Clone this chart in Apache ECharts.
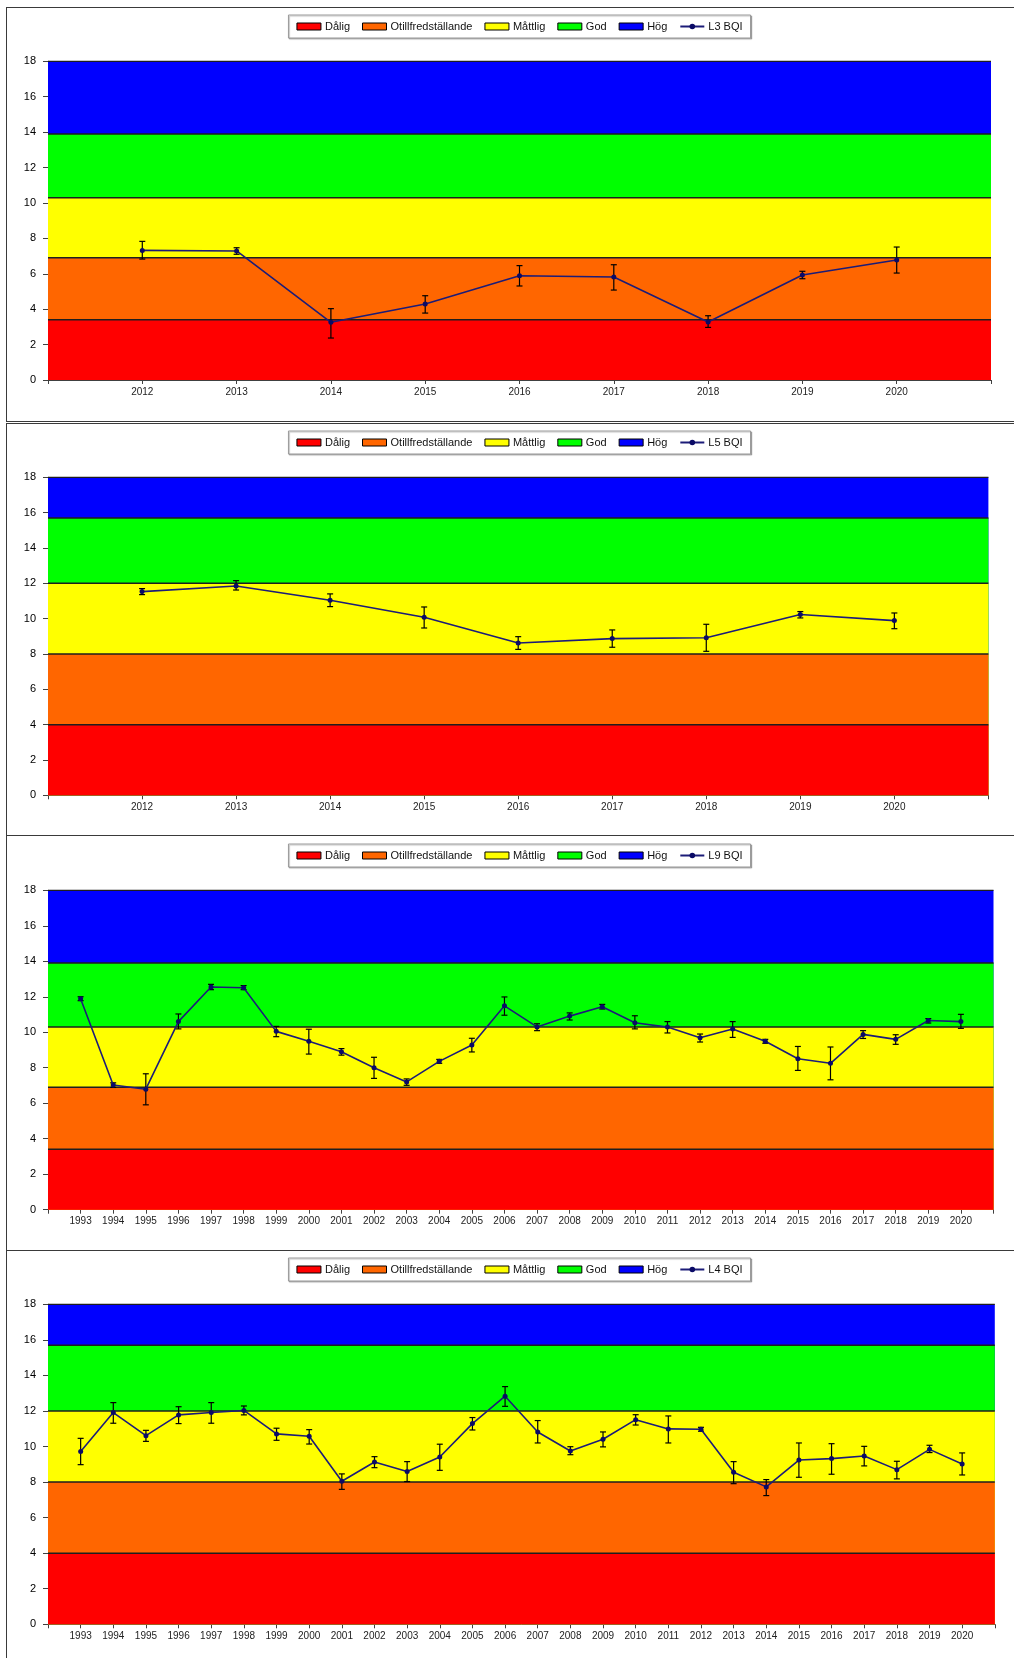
<!DOCTYPE html>
<html>
<head>
<meta charset="utf-8">
<script src="https://cdn.jsdelivr.net/npm/echarts@6/dist/echarts.min.js"></script>
<style>
  html, body { margin: 0; padding: 0; background: #fff; }
  #page { position: relative; width: 1014px; height: 1658px; overflow: hidden; }
  .frame { position: absolute; left: 6px; width: 1030px; border: 1px solid #3a3a3a; box-sizing: border-box; }
  .chart { position: absolute; left: 0; width: 1039px; }
</style>
</head>
<body>
<div id="page">
  <div class="frame" style="top:7px;height:415px"></div>
  <div class="frame" style="top:423px;height:413px"></div>
  <div class="frame" style="top:835px;height:416px"></div>
  <div class="frame" style="top:1250px;height:420px"></div>
  <div class="chart" id="c1" style="top:7px;height:414px"></div>
  <div class="chart" id="c2" style="top:423px;height:412px"></div>
  <div class="chart" id="c3" style="top:836px;height:414px"></div>
  <div class="chart" id="c4" style="top:1250px;height:408px"></div>
</div>
<script>
// Status classes (bottom to top) and their colours
const bandNames = ['Dålig', 'Otillfredställande', 'Måttlig', 'God', 'Hög'];
const bandColors = ['#FF0000', '#FF6600', '#FFFF00', '#00FF00', '#0000FF'];
// Upper limit of each class
const bandTopsL3L9 = [3.4, 6.9, 10.3, 13.9, 18];
const bandTopsL5L4 = [4, 8, 12, 15.7, 18];

// Y axis
const yMin = 0, yMax = 18, yStep = 2;

// Station L3
const yearsL3 = [2012, 2013, 2014, 2015, 2016, 2017, 2018, 2019, 2020];
const bqiL3 = [7.32, 7.29, 3.26, 4.29, 5.89, 5.82, 3.28, 5.93, 6.78];
const lowL3 = [6.83, 7.10, 2.37, 3.78, 5.31, 5.08, 2.97, 5.72, 6.04];
const highL3 = [7.83, 7.47, 4.03, 4.76, 6.46, 6.51, 3.63, 6.14, 7.51];

// Station L5
const yearsL5 = [2012, 2013, 2014, 2015, 2016, 2017, 2018, 2019, 2020];
const bqiL5 = [11.53, 11.85, 11.04, 10.08, 8.62, 8.87, 8.92, 10.23, 9.89];
const lowL5 = [11.36, 11.62, 10.68, 9.47, 8.26, 8.38, 8.15, 10.04, 9.43];
const highL5 = [11.70, 12.15, 11.40, 10.66, 8.98, 9.36, 9.68, 10.40, 10.32];

// Station L9
const yearsL9 = [1993, 1994, 1995, 1996, 1997, 1998, 1999, 2000, 2001, 2002, 2003, 2004, 2005, 2006,
                 2007, 2008, 2009, 2010, 2011, 2012, 2013, 2014, 2015, 2016, 2017, 2018, 2019, 2020];
const bqiL9 = [11.89, 7.03, 6.79, 10.60, 12.55, 12.51, 10.05, 9.49, 8.90, 8.00, 7.20, 8.36, 9.28, 11.49,
               10.30, 10.91, 11.44, 10.54, 10.29, 9.69, 10.18, 9.49, 8.51, 8.25, 9.88, 9.60, 10.66, 10.60];
const lowL9 = [11.78, 6.89, 5.91, 10.19, 12.40, 12.40, 9.75, 8.77, 8.71, 7.40, 7.01, 8.25, 8.89, 10.96,
               10.09, 10.69, 11.31, 10.19, 9.96, 9.45, 9.71, 9.38, 7.85, 7.32, 9.65, 9.32, 10.52, 10.22];
const highL9 = [12.00, 7.15, 7.66, 11.03, 12.70, 12.63, 10.33, 10.17, 9.08, 8.59, 7.37, 8.47, 9.66, 11.99,
                10.48, 11.09, 11.57, 10.93, 10.60, 9.90, 10.60, 9.60, 9.20, 9.17, 10.09, 9.86, 10.77, 11.01];

// Station L4
const yearsL4 = [1993, 1994, 1995, 1996, 1997, 1998, 1999, 2000, 2001, 2002, 2003, 2004, 2005, 2006,
                 2007, 2008, 2009, 2010, 2011, 2012, 2013, 2014, 2015, 2016, 2017, 2018, 2019, 2020];
const bqiL4 = [9.72, 11.91, 10.61, 11.78, 11.91, 12.03, 10.71, 10.58, 8.05, 9.13, 8.59, 9.41, 11.29, 12.83,
               10.82, 9.75, 10.41, 11.51, 10.99, 10.97, 8.55, 7.73, 9.24, 9.32, 9.47, 8.70, 9.84, 9.02];
const lowL4 = [8.98, 11.31, 10.29, 11.29, 11.31, 11.78, 10.35, 10.14, 7.59, 8.81, 8.03, 8.66, 10.93, 12.26,
               10.20, 9.54, 9.98, 11.21, 10.20, 10.86, 7.91, 7.24, 8.27, 8.44, 8.91, 8.18, 9.66, 8.40];
const highL4 = [10.46, 12.47, 10.91, 12.24, 12.47, 12.28, 11.03, 10.95, 8.46, 9.43, 9.15, 10.13, 11.63, 13.37,
                11.46, 9.99, 10.82, 11.79, 11.72, 11.08, 9.15, 8.14, 10.20, 10.16, 10.01, 9.17, 10.07, 9.64];

const FONT = '"Liberation Sans", Arial, sans-serif';

function buildOption(p) {
  const xMin = p.years[0] - 1;
  const xMax = p.years[p.years.length - 1] + 1;

  // Class bands: each area reaches down to zero; lower classes are drawn on top
  const bands = bandNames.map((name, i) => ({
    name: name,
    type: 'line',
    z: 6 - i,
    silent: true,
    symbol: 'none',
    data: [[xMin, p.tops[i]], [xMax, p.tops[i]]],
    lineStyle: { color: '#1e1e1e', width: 1.5 },
    itemStyle: { color: bandColors[i] },
    areaStyle: { color: bandColors[i], opacity: 1 },
    emphasis: { disabled: true }
  }));

  const errorBars = {
    name: 'err',
    type: 'custom',
    z: 9,
    silent: true,
    data: p.years.map((y, i) => [y, p.low[i], p.high[i]]),
    encode: { x: 0, y: [1, 2] },
    renderItem: function (params, api) {
      const x = api.value(0);
      const a = api.coord([x, api.value(1)]);
      const b = api.coord([x, api.value(2)]);
      const hw = 3;
      const st = { stroke: '#000', lineWidth: 1.2 };
      return {
        type: 'group',
        children: [
          { type: 'line', shape: { x1: a[0], y1: a[1], x2: b[0], y2: b[1] }, style: st },
          { type: 'line', shape: { x1: a[0] - hw, y1: a[1], x2: a[0] + hw, y2: a[1] }, style: st },
          { type: 'line', shape: { x1: b[0] - hw, y1: b[1], x2: b[0] + hw, y2: b[1] }, style: st }
        ]
      };
    }
  };

  const bqi = {
    name: p.label,
    type: 'line',
    z: 10,
    data: p.years.map((y, i) => [y, p.values[i]]),
    symbol: 'circle',
    symbolSize: 5,
    lineStyle: { color: '#1c1c78', width: 1.6 },
    itemStyle: { color: '#0a0a66' },
    emphasis: { disabled: true }
  };

  return {
    animation: false,
    textStyle: { fontFamily: FONT },
    legend: {
      top: p.legendTop,
      left: 'center',
      padding: [6, 8],
      itemGap: 12,
      itemWidth: 24,
      itemHeight: 7,
      borderColor: '#9a9a9a',
      borderWidth: 1,
      backgroundColor: '#fff',
      shadowColor: 'rgba(0,0,0,0.25)',
      shadowOffsetX: 1,
      shadowOffsetY: 1,
      shadowBlur: 1,
      selectedMode: false,
      textStyle: { fontSize: 11, color: '#111', fontFamily: FONT, padding: [0, 0, 0, -1] },
      data: bandNames.map((n, i) => ({
        name: n,
        icon: 'rect',
        itemStyle: { color: bandColors[i], borderColor: '#000', borderWidth: 1 }
      })).concat([{ name: p.label }])
    },
    grid: { left: 48, right: p.gridRight, top: p.gridTop, height: p.gridHeight },
    xAxis: {
      type: 'value',
      min: xMin,
      max: xMax,
      interval: 1,
      axisLine: { show: true, lineStyle: { color: '#404040', width: 1 } },
      axisTick: { show: true, length: 4, lineStyle: { color: '#404040' } },
      axisLabel: {
        fontSize: 10,
        color: '#222',
        margin: 7,
        fontFamily: FONT,
        formatter: v => (v === xMin || v === xMax) ? '' : String(v)
      },
      splitLine: { show: false }
    },
    yAxis: {
      type: 'value',
      min: yMin,
      max: yMax,
      interval: yStep,
      axisLine: { show: true, lineStyle: { color: '#404040', width: 1 } },
      axisTick: { show: true, length: 5, lineStyle: { color: '#404040' } },
      axisLabel: { fontSize: 11, color: '#000', margin: 12, fontFamily: FONT },
      splitLine: { show: false }
    },
    series: bands.concat([errorBars, bqi])
  };
}

const panels = [
  { el: 'c1', label: 'L3 BQI', years: yearsL3, values: bqiL3, low: lowL3, high: highL3,
    tops: bandTopsL3L9, legendTop: 8, gridTop: 54.3, gridHeight: 318.7, gridRight: 48 },
  { el: 'c2', label: 'L5 BQI', years: yearsL5, values: bqiL5, low: lowL5, high: highL5,
    tops: bandTopsL5L4, legendTop: 8, gridTop: 54.3, gridHeight: 318, gridRight: 50.6 },
  { el: 'c3', label: 'L9 BQI', years: yearsL9, values: bqiL9, low: lowL9, high: highL9,
    tops: bandTopsL3L9, legendTop: 8, gridTop: 54.3, gridHeight: 319.4, gridRight: 45.5 },
  { el: 'c4', label: 'L4 BQI', years: yearsL4, values: bqiL4, low: lowL4, high: highL4,
    tops: bandTopsL5L4, legendTop: 8, gridTop: 54.3, gridHeight: 320, gridRight: 44.2 }
];

panels.forEach(p => {
  const chart = echarts.init(document.getElementById(p.el), null, { renderer: 'canvas' });
  chart.setOption(buildOption(p));
});
</script>
</body>
</html>
